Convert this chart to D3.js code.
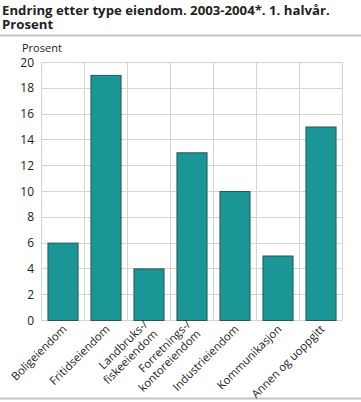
<!DOCTYPE html>
<html>
<head>
<meta charset="utf-8">
<script src="https://cdn.jsdelivr.net/npm/d3@7"></script>
<style>
  body { margin: 0; background: #fff; }
  text { font-family: "Open Sans", "DejaVu Sans", sans-serif; }
</style>
</head>
<body>
<div id="chart"></div>
<script>
const categories = ["Boligeiendom", "Fritidseiendom", "Landbruks-/\nfiskeeiendom", "Forretnings-/\nkontoreiendom", "Industrieiendom", "Kommunikasjon", "Annen og uoppgitt"];
const values = [6, 19, 4, 13, 10, 5, 15];
const yTicks = [0, 2, 4, 6, 8, 10, 12, 14, 16, 18, 20];

const width = 361, height = 402;
const margin = { left: 41, right: 19, top: 62, bottom: 82 };

const svg = d3.select("#chart").append("svg")
    .attr("width", width)
    .attr("height", height);

// tittel
svg.append("text").attr("x", 2).attr("y", 14.5)
    .style("font-size", "13.2px").style("font-weight", "bold").attr("fill", "#222")
    .text("Endring etter type eiendom. 2003-2004*. 1. halvår.");
svg.append("text").attr("x", 2).attr("y", 28.5)
    .style("font-size", "13.2px").style("font-weight", "bold").attr("fill", "#222")
    .text("Prosent");
svg.append("line").attr("x1", 0).attr("x2", width).attr("y1", 35.5).attr("y2", 35.5)
    .attr("stroke", "#c4c4c4").attr("stroke-width", 2);
svg.append("line").attr("x1", 0).attr("x2", width).attr("y1", 398.5).attr("y2", 398.5)
    .attr("stroke", "#c4c4c4").attr("stroke-width", 2);

const x = d3.scaleBand()
    .domain(categories)
    .range([margin.left, width - margin.right])
    .paddingInner(0.3)
    .paddingOuter(0.15);

const x0 = d3.scaleBand().domain(categories).range([margin.left, width - margin.right]);

const y = d3.scaleLinear()
    .domain([0, 20])
    .range([height - margin.bottom, margin.top]);

// rutenett
svg.append("g").selectAll("line.h").data(yTicks).enter().append("line")
    .attr("x1", margin.left).attr("x2", width - margin.right)
    .attr("y1", d => Math.round(y(d)) + 0.5).attr("y2", d => Math.round(y(d)) + 0.5)
    .attr("stroke", "#d4d4d4");
const vLines = categories.map(c => x0(c)).concat([width - margin.right]);
svg.append("g").selectAll("line.v").data(vLines).enter().append("line")
    .attr("x1", d => Math.round(d) + 0.5).attr("x2", d => Math.round(d) + 0.5)
    .attr("y1", y(20)).attr("y2", y(0))
    .attr("stroke", "#d4d4d4");

// søyler
svg.append("g").selectAll("rect").data(values).enter().append("rect")
    .attr("x", (d, i) => x(categories[i]) + 0.5)
    .attr("y", d => y(d) + 0.5)
    .attr("width", x.bandwidth())
    .attr("height", d => y(0) - y(d))
    .attr("fill", "#1a9696")
    .attr("stroke", "#2a5656")
    .attr("stroke-width", 1);

// y-akse
svg.append("g").selectAll("text").data(yTicks).enter().append("text")
    .attr("x", 34).attr("y", d => y(d) + 4.5)
    .attr("text-anchor", "end")
    .style("font-size", "12px").attr("fill", "#222")
    .text(d => d);
svg.append("text").attr("x", 22).attr("y", 52)
    .style("font-size", "11px").attr("fill", "#222")
    .text("Prosent");

// x-etiketter
const lab = svg.append("g").selectAll("text").data(categories).enter().append("text")
    .attr("transform", c => `translate(${x0(c) + x0.bandwidth() / 2 + 2},${y(0) + 7}) rotate(-45)`)
    .attr("text-anchor", "end")
    .style("font-size", "11.3px").attr("fill", "#222");
lab.each(function(c) {
  const lines = c.split("\n");
  const t = d3.select(this);
  lines.forEach((l, i) => {
    t.append("tspan").attr("x", 0)
      .attr("dy", i === 0 ? (lines.length === 1 ? "0.35em" : "-0.25em") : "1.2em")
      .text(l);
  });
});
</script>
</body>
</html>
